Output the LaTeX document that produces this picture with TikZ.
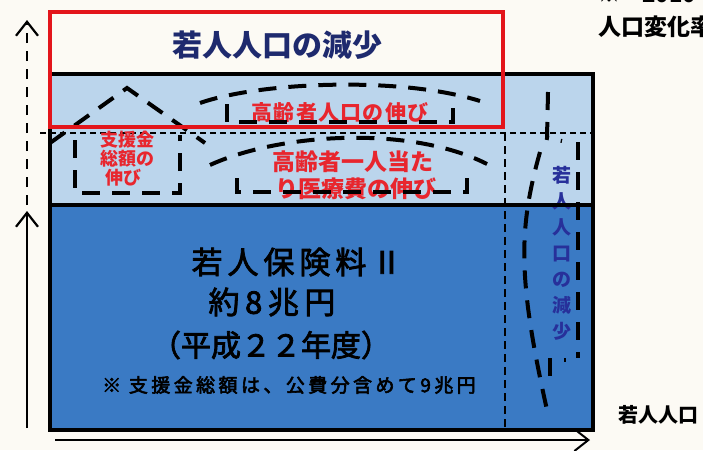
\documentclass[tikz,border=0pt]{standalone}
\usepackage{fontspec}
\newfontfamily\jp{Noto Sans CJK JP}
\usetikzlibrary{arrows.meta}
\definecolor{bg}{HTML}{FCFAF4}
\definecolor{lblue}{HTML}{BBD5EC}
\definecolor{dblue}{HTML}{3A7AC4}
\definecolor{boxred}{HTML}{E3151B}
\definecolor{navy}{HTML}{1E2A6E}
\definecolor{txtred}{HTML}{E8262E}
\definecolor{vnavy}{HTML}{27309A}
\tikzset{
  thickdash/.style={line width=4pt, dash pattern=on 18pt off 12pt, line cap=butt},
  thindash/.style={line width=1.5pt, dash pattern=on 6pt off 4pt},
  axis/.style={line width=2.2pt, -{Straight Barb[length=14pt,width=22pt]}},
  border/.style={line width=4pt},
  jptext/.style={inner sep=0pt},
}
\begin{document}
\begin{tikzpicture}[x=1pt,y=-1pt]
\fill[bg] (0,0) rectangle (703,450);
\useasboundingbox (0,0) rectangle (703,450);
% fills
\fill[lblue] (50,74) rectangle (593,205);
\fill[dblue] (50,205) rectangle (593,430);
% thin dashed guide lines
\coordinate (hl) at (40,133); \coordinate (hr) at (591,133);
\draw[thindash] (hl) -- (hr);
\coordinate (vt) at (505,133); \coordinate (vb) at (505,430);
\draw[thindash, dash pattern=on 8pt off 5pt] (vt) -- (vb);
% texts
\node[jptext, text=navy, font={\jp\fontsize{30}{36}\selectfont\bfseries}] (title) at (277,45) {若人人口の減少};
\node[jptext, text=black, font={\jp\fontsize{31}{36}\selectfont\addfontfeature{LetterSpace=16,FakeBold=2.5}}] (l1) at (297,262) {若人保険料Ⅱ};
\node[jptext, text=black, font={\jp\fontsize{31}{36}\selectfont\addfontfeature{LetterSpace=18,FakeBold=2.5}}] (l2) at (272,302) {約8兆円};
\node[jptext, text=black, font={\jp\fontsize{30}{36}\selectfont\addfontfeature{FakeBold=2.5}}] (l3) at (271,345) {（平成２２年度）};
\node[jptext, text=black, font={\jp\fontsize{19}{22}\selectfont\addfontfeature{LetterSpace=18,FakeBold=3}}] (l4) at (289,385) {※ 支援金総額は、公費分含めて9兆円};
\node[jptext, text=txtred, font={\jp\fontsize{21}{24}\selectfont\bfseries\addfontfeature{LetterSpace=6}}] (r1) at (340,113) {高齢者人口の伸び};
\node[jptext, text=txtred, font={\jp\fontsize{23}{26}\selectfont\bfseries}] (r2) at (353,162) {高齢者一人当た};
\node[jptext, text=txtred, font={\jp\fontsize{23}{26}\selectfont\bfseries}] (r3) at (356,189) {り医療費の伸び};
\node[jptext, text=txtred, font={\jp\fontsize{18}{19}\selectfont\bfseries}] (s1) at (127,140) {支援金};
\node[jptext, text=txtred, font={\jp\fontsize{18}{19}\selectfont\bfseries}] (s2) at (127,159) {総額の};
\node[jptext, text=txtred, font={\jp\fontsize{18}{19}\selectfont\bfseries}] (s3) at (123,178) {伸び};
\node[jptext, text=vnavy, font={\jp\fontsize{19}{26}\selectfont\bfseries}, align=center, anchor=north] (vt1) at (562,166) {若\\人\\人\\口\\の\\減\\少};
\node[jptext, text=black, font={\jp\fontsize{20}{24}\selectfont\bfseries}] (wr) at (658,415) {若人人口};
\node[jptext, text=black, font={\jp\fontsize{23}{26}\selectfont\bfseries}, anchor=west] (tr2) at (598,27) {人口変化率};
\node[jptext, text=black, font={\jp\fontsize{22}{26}\selectfont\bfseries}, anchor=west] (tr1) at (598,-5) {※　2010};
% thick hand-drawn dashed shapes
\draw[thickdash] (50,143) -- (127,88) -- (205,143);
\draw[thickdash] (75,140) -- (75,193) -- (180,193) -- (180,135);
\draw[thickdash] (200,103) .. controls (260,82) and (400,76) .. (480,101);
\draw[thickdash] (227,104) -- (227,122) -- (453,122) -- (453,108);
\draw[thickdash] (210,165) .. controls (280,133) and (410,125) .. (487,164);
\draw[thickdash] (237,178) -- (237,192) -- (467,192) -- (467,172);
\draw[thickdash] (548,92) -- (547,138) -- (562,141);
\draw[thickdash] (540,152) .. controls (518,230) and (518,280) .. (547,410);
\draw[thickdash] (550,376) -- (550,360) -- (566,360);
\draw[thickdash] (578,142) -- (578,358);
% borders
\draw[border] (50,74) rectangle (593,430);
\draw[border] (50,205) -- (593,205);
\draw[boxred, line width=4pt] (50,12) rectangle (503,127);
% axes
\coordinate (a0) at (27,428); \coordinate (a1) at (27,211);
\draw[axis] (a0) -- (a1);
\coordinate (a2) at (27,205); \coordinate (a3) at (27,20);
\draw[axis, dash pattern=on 10pt off 8pt] (a2) -- (a3);
\coordinate (b0) at (55,440); \coordinate (b1) at (590,440);
\draw[axis, line width=2pt] (b0) -- (b1);
\end{tikzpicture}
\end{document}
